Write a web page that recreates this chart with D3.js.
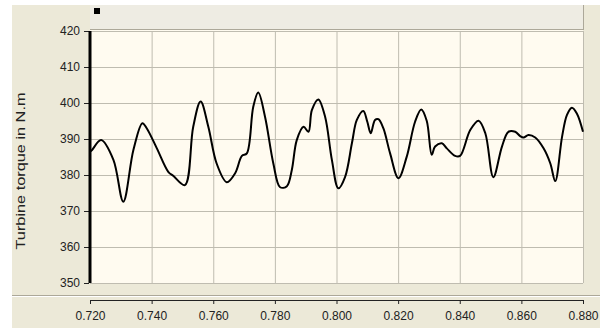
<!DOCTYPE html>
<html>
  <head>
    <meta charset="utf-8">
    <script src="https://d3js.org/d3.v7.min.js"></script>
    <title>Turbine torque</title>
    <style>
      body { margin: 0; background: #fff; }
      text { font-family: "Liberation Sans", Arial, sans-serif; fill: #222; }
    </style>
  </head>
  <body>
    <div id="plot"></div>
    <script>

    // data
    const timeValues = [0.7200, 0.7206, 0.7236, 0.7276, 0.7308, 0.7341, 0.7370, 0.7384, 0.7417,
      0.7454, 0.7471, 0.7508, 0.7535, 0.7559, 0.7584, 0.7611, 0.7644, 0.7671, 0.7693, 0.7709,
      0.7730, 0.7746, 0.7768, 0.7795, 0.7817, 0.7839, 0.7855, 0.7871, 0.7893, 0.7909, 0.7920,
      0.7941, 0.7963, 0.7985, 0.8006, 0.8028, 0.8050, 0.8066, 0.8087, 0.8100, 0.8111, 0.8125,
      0.8136, 0.8152, 0.8174, 0.8201, 0.8228, 0.8255, 0.8275, 0.8293, 0.8309, 0.8320, 0.8342,
      0.8358, 0.8385, 0.8401, 0.8434, 0.8461, 0.8483, 0.8509, 0.8537, 0.8558, 0.8580, 0.8596,
      0.8607, 0.8623, 0.8645, 0.8672, 0.8694, 0.8710, 0.8732, 0.8748, 0.8764, 0.8780, 0.8800];
    const torqueValues = [386.5, 386.9, 389.7, 384.2, 372.6, 387.0, 394.4, 393.0, 387.4,
      380.9, 379.7, 377.2, 393.4, 400.4, 393.4, 383.2, 378.0, 380.5, 385.3, 386.0,
      399.0, 402.9, 396.2, 383.2, 376.6, 376.9, 381.4, 389.7, 393.4, 392.0, 398.0,
      401.0, 396.2, 384.2, 376.3, 379.5, 388.8, 395.3, 397.8, 394.8, 391.6, 395.3,
      395.5, 393.0, 386.0, 379.1, 385.1, 394.8, 398.2, 395.0, 385.6, 387.9, 388.8,
      387.4, 385.3, 385.3, 392.5, 395.1, 391.6, 379.4, 387.9, 392.0, 392.0, 390.8,
      390.4, 391.1, 390.4, 387.4, 383.2, 378.3, 390.6, 396.7, 398.7, 397.1, 392.0];
    const yTicks = [350, 360, 370, 380, 390, 400, 410, 420];
    const xTicks = [0.72, 0.74, 0.76, 0.78, 0.80, 0.82, 0.84, 0.86, 0.88];

    const W = 600, H = 328;
    const plotLeft = 90, plotRight = 583, plotTop = 31, plotBottom = 283;

    let svg = d3.select("#plot")
      .append("svg")
        .attr("width", W)
        .attr("height", H);

    // window panel
    svg.append("rect").attr("x", 12).attr("y", 5).attr("width", W - 12).attr("height", H - 5)
      .attr("fill", "#ece9d8");
    // header strip with the small black marker
    svg.append("rect").attr("x", plotLeft).attr("y", 5).attr("width", plotRight - plotLeft).attr("height", 24)
      .attr("fill", "#eeece3");
    svg.append("line").attr("x1", plotLeft).attr("x2", plotRight).attr("y1", 29.5).attr("y2", 29.5)
      .attr("stroke", "#aca899");
    svg.append("line").attr("x1", plotRight + 0.5).attr("x2", plotRight + 0.5).attr("y1", 5).attr("y2", 30)
      .attr("stroke", "#aca899");
    svg.append("rect").attr("x", 94).attr("y", 8).attr("width", 6).attr("height", 6).attr("fill", "#000");

    // plot area
    svg.append("rect").attr("x", plotLeft).attr("y", plotTop - 1).attr("width", plotRight - plotLeft)
      .attr("height", plotBottom - plotTop + 1)
      .attr("fill", "#fffbf0");

    // separator above the x axis
    svg.append("line").attr("x1", 12).attr("x2", W).attr("y1", 295.5).attr("y2", 295.5)
      .attr("stroke", "#aca899");
    svg.append("line").attr("x1", 12).attr("x2", W).attr("y1", 296.5).attr("y2", 296.5)
      .attr("stroke", "#fff");

    const x = d3.scaleLinear().domain([0.72, 0.88]).range([plotLeft, plotRight]);
    const y = d3.scaleLinear().domain([350, 420]).range([plotBottom, plotTop]);

    //grids
    svg.append("g")
      .attr("transform", "translate(" + plotLeft + ",0)")
      .call(d3.axisLeft(y).tickValues(yTicks).tickSize(-(plotRight - plotLeft)).tickFormat(""))
      .call(g => g.select(".domain").remove())
      .selectAll("line").attr("stroke", "#bfbcb0");
    svg.append("g")
      .attr("transform", "translate(0," + plotBottom + ")")
      .call(d3.axisBottom(x).tickValues(xTicks).tickSize(-(plotBottom - plotTop)).tickFormat(""))
      .call(g => g.select(".domain").remove())
      .selectAll("line").attr("stroke", "#bfbcb0");

    // Y axis
    let yAxis = svg.append("g")
      .attr("transform", "translate(" + plotLeft + ",0)")
      .call(d3.axisLeft(y).tickValues(yTicks).tickSize(5).tickPadding(5).tickFormat(d3.format("d")));
    yAxis.select(".domain").remove();
    yAxis.selectAll("line").attr("stroke", "#222").attr("transform", "translate(-1,0)");
    yAxis.selectAll("text").style("font-size", "12px").attr("fill", "#333");
    svg.append("line").attr("x1", plotLeft).attr("x2", plotLeft).attr("y1", plotTop).attr("y2", plotBottom)
      .attr("stroke", "#000").attr("stroke-width", 3);

    // X axis
    let xAxis = svg.append("g")
      .attr("transform", "translate(0,300)")
      .call(d3.axisBottom(x).tickValues(xTicks).tickSizeInner(4).tickSizeOuter(0).tickPadding(7)
        .tickFormat(d3.format(".3f")));
    xAxis.select(".domain").attr("stroke", "#222");
    xAxis.selectAll("line").attr("stroke", "#222");
    xAxis.selectAll("text").style("font-size", "12px").attr("fill", "#333");

    // torque line
    const data = timeValues.map((t, i) => ({ t: t, v: torqueValues[i] }));
    svg.append("path")
      .datum(data)
      .attr("fill", "none")
      .attr("stroke", "#000")
      .attr("stroke-width", 2)
      .attr("stroke-linejoin", "round")
      .attr("d", d3.line()
        .curve(d3.curveCatmullRom.alpha(0.5))
        .x(d => x(d.t))
        .y(d => y(d.v)));

    //add y label
    svg.append("text")
      .text("Turbine torque in N.m")
      .attr("transform", "translate(25,171) rotate(-90)")
      .attr("text-anchor", "middle")
      .attr("textLength", 157)
      .attr("lengthAdjust", "spacingAndGlyphs")
      .attr("fill", "#333")
      .style("font-size", "12px");

    </script>
  </body>
</html>
